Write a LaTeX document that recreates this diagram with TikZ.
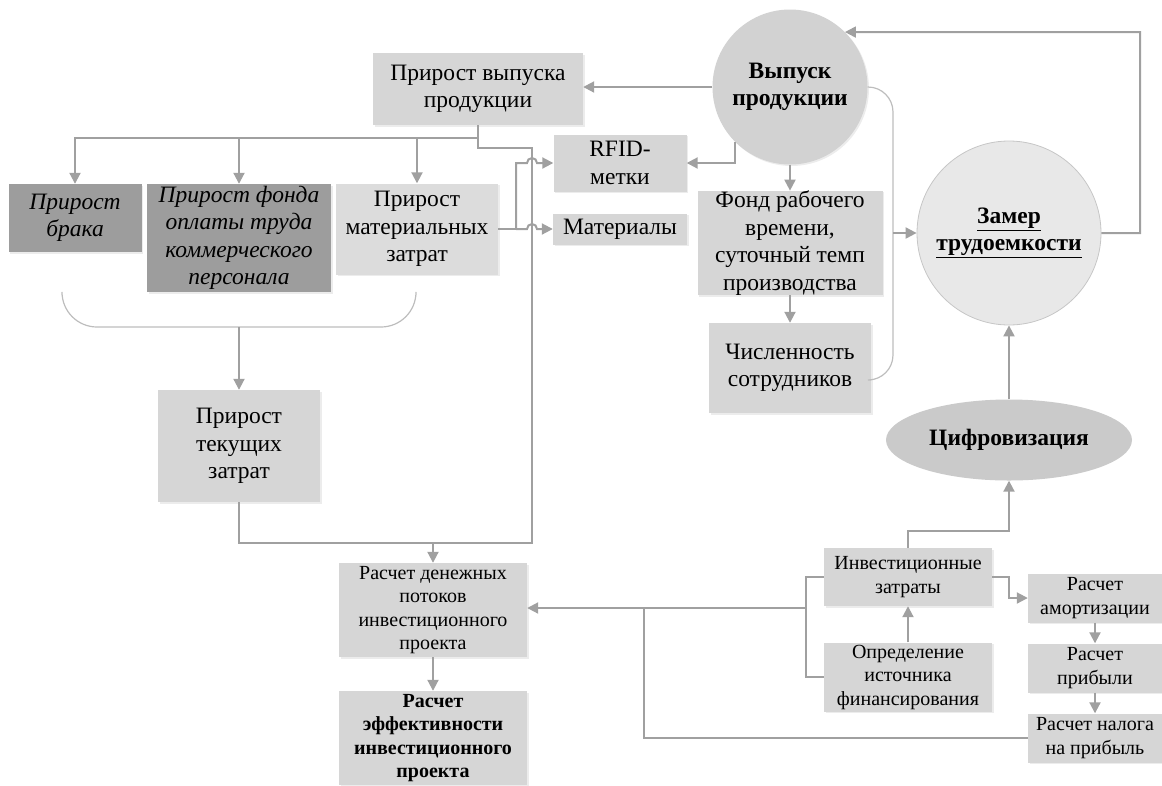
\documentclass[tikz,border=0pt]{standalone}
\usepackage{fontspec}
\setmainfont{Liberation Serif}
\usetikzlibrary{arrows.meta,shapes.geometric,shadows}

\definecolor{boxgray}{HTML}{D6D6D6}
\definecolor{darkbox}{HTML}{9D9D9D}
\definecolor{vpgray}{HTML}{D2D2D2}
\definecolor{zamgray}{HTML}{E8E8E8}
\definecolor{cifgray}{HTML}{CACACA}
\definecolor{linegray}{HTML}{A0A0A0}

\newcommand\fbig{\fontsize{23.5}{27.5}\selectfont}
\newcommand\fsml{\fontsize{20}{23.5}\selectfont}

\tikzset{
  box/.style={rectangle, fill=boxgray, inner sep=0pt, align=center, font=\fbig,
    drop shadow={opacity=0.15, shadow xshift=1.5pt, shadow yshift=-1.5pt}},
  dbox/.style={box, fill=darkbox, font=\fbig\itshape},
  sbox/.style={box, font=\fsml},
  conn/.style={draw=linegray, line width=2pt},
  arr/.style={conn, -{Triangle[length=11pt,width=11pt]}},
  brace/.style={draw=linegray!70, line width=1.2pt},
}

\begin{document}
\begin{tikzpicture}[x=1pt,y=-1pt]
    \useasboundingbox (0,0) rectangle (1162,785);

    % upper part
    \node[box, minimum width=210pt, minimum height=72pt] (pvp) at (478,89) {Прирост выпуска\\продукции};
    \node[circle, fill=vpgray, minimum size=155pt, inner sep=0pt, align=center, font=\fbig\bfseries,
      drop shadow={opacity=0.15, shadow xshift=1.5pt, shadow yshift=-1.5pt}] (vp) at (790,87) {Выпуск\\продукции};
    \node[box, minimum width=133pt, minimum height=57pt] (rfid) at (620,163) {RFID-\\метки};
    \node[box, minimum width=134pt, minimum height=31pt] (mater) at (620,229) {Материалы};
    \node[box, minimum width=185pt, minimum height=103pt] (fond) at (790,243) {Фонд рабочего\\времени,\\суточный темп\\производства};
    \node[box, minimum width=162pt, minimum height=90pt] (chisl) at (790,368) {Численность\\сотрудников};
    \node[circle, fill=zamgray, draw=linegray!60, line width=0.8pt, minimum size=184pt, inner sep=0pt, align=center,
      font=\fbig\bfseries] (zam) at (1009,233) {\underline{Замер}\\\underline{трудоемкости}};
    \node[ellipse, fill=cifgray, minimum width=246pt, minimum height=81pt, inner sep=0pt,
      font=\fbig\bfseries] (cif) at (1009,440) {Цифровизация};

    % left part
    \node[dbox, minimum width=133pt, minimum height=68pt] (brak) at (75,218) {Прирост\\брака};
    \node[dbox, minimum width=184pt, minimum height=108pt] (pfond) at (239,238) {Прирост фонда\\оплаты труда\\коммерческого\\персонала};
    \node[box, fill=boxgray!85, minimum width=162pt, minimum height=91pt] (pmat) at (417,229) {Прирост\\материальных\\затрат};
    \node[box, minimum width=162pt, minimum height=112pt] (ptz) at (239,446) {Прирост\\текущих\\затрат};

    % lower part
    \node[sbox, minimum width=188pt, minimum height=94pt] (rdp) at (433,610) {Расчет денежных\\потоков\\инвестиционного\\проекта};
    \node[sbox, font=\fsml\bfseries, minimum width=188pt, minimum height=94pt] (ref) at (433,738) {Расчет\\эффективности\\инвестиционного\\проекта};
    \node[sbox, minimum width=168pt, minimum height=58pt] (inv) at (908,577) {Инвестиционные\\затраты};
    \node[sbox, minimum width=168pt, minimum height=69pt] (ist) at (908,677) {Определение\\источника\\финансирования};
    \node[sbox, minimum width=134pt, minimum height=49pt] (amo) at (1095,598) {Расчет\\амортизации};
    \node[sbox, minimum width=134pt, minimum height=49pt] (prib) at (1095,668) {Расчет\\прибыли};
    \node[sbox, minimum width=134pt, minimum height=49pt] (nal) at (1095,738) {Расчет налога\\на прибыль};

    \coordinate (bus) at (478,138);
    \coordinate (cf) at (433,543);
    \coordinate (jm) at (516,229);
    \coordinate (bc) at (239,327);
    \coordinate (bb) at (871,380);
    \coordinate (br) at (893,233);
    \coordinate (lp) at (1140,32);
    \coordinate (ic) at (1009,531);
    \coordinate (lb) at (806,608);
    \coordinate (lt) at (644,608);
    \coordinate (ia) at (1009,598);

    % connectors
    \draw[arr] (vp.west) -- (pvp.east |- vp.west);
    \draw[arr] (vp.225) |- (rfid.east);
    \draw[arr] (vp.south) -- (fond.north);
    \draw[arr] (fond.south) -- (chisl.north);
    \draw[arr] (pvp.south) -- (bus) -| (brak.north);
    \draw[arr] (bus) -| (pfond.north);
    \draw[arr] (bus) -| (pmat.north);
    \draw[conn] (pvp.south) |- (532,148) |- (cf);
    \draw[conn] (ptz.south) |- (cf);
    \draw[arr] (cf) -- (rdp.north);
    \draw[arr] (rdp.south) -- (ref.north);

    \draw[conn] (pmat.east) -- (jm);
    \draw[arr] (jm) |- (527,163) arc[start angle=180, end angle=0, radius=5pt] -- (rfid.west);
    \draw[arr] (jm) -- (527,229) arc[start angle=180, end angle=0, radius=5pt] -- (mater.west);

    \draw[brace, rounded corners=35pt] (62,295) |- (416,327) -- (416,295);
    \draw[arr] (bc) -- (ptz.north);

    \draw[brace, rounded corners=25pt] (vp.east) -| (893,380) -- (bb);
    \draw[arr] (br) -- (zam.west);
    \draw[arr] (zam.east) -| (lp) -- (vp.45);
    \draw[arr] (cif.north) -- (zam.south);

    \draw[arr] (inv.north) |- (ic) -- (cif.south);
    \draw[arr] (ist.north) -- (inv.south);
    \draw[conn] (inv.west) -| (lb);
    \draw[conn] (ist.west) -| (lb);
    \draw[arr] (lb) -- (rdp.east |- lb);
    \draw[conn] (nal.west) -| (lt);
    \draw[arr] (inv.east) -| (ia) -- (amo.west);
    \draw[arr] (amo.south) -- (prib.north);
    \draw[arr] (prib.south) -- (nal.north);

\end{tikzpicture}
\end{document}
